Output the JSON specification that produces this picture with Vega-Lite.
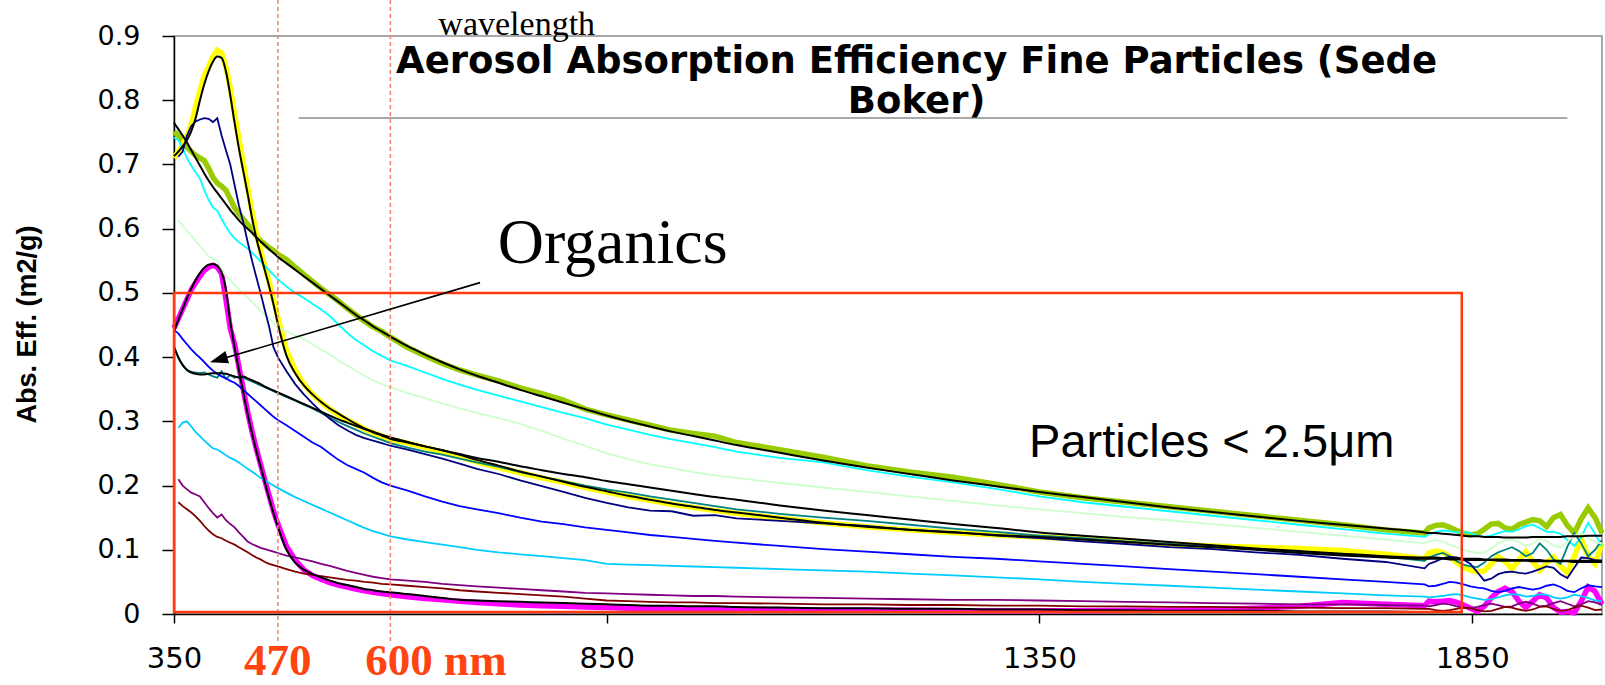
{
  "$schema": "https://vega.github.io/schema/vega-lite/v6.json",
  "width": 1428,
  "height": 578,
  "autosize": {"type": "none"},
  "padding": {"left": 174, "top": 36, "right": 3, "bottom": 71},
  "background": "white",
  "config": {
    "view": {"stroke": "#8c8c8c", "strokeWidth": 1.5},
    "axis": {
      "grid": false, "labelFont": "DejaVu Sans", "labelColor": "#000",
      "tickColor": "#000", "tickWidth": 1.5, "domainColor": "#000", "domainWidth": 1.5
    },
    "axisX": {"labelFontSize": 29, "labelPadding": 21, "labelFlush": false, "labelOverlap": false, "tickSize": 9},
    "axisY": {
      "labelFontSize": 27, "labelPadding": 22, "labelFlush": false, "tickSize": 12,
      "titleFont": "Liberation Sans", "titleFontSize": 27, "titleFontWeight": "bold", "titleColor": "#000",
      "titleAngle": 270, "titleX": -147, "titleY": 288, "titleAlign": "center", "titleBaseline": "middle"
    }
  },
  "datasets": {
    "spectra": [
      {"x":350,"grn":0.751,"yel":0.71,"mag":0.445,"cyn":0.742,"tel":0.416,"blu":0.442,"k1":0.713,"k2":0.765,"k3":0.416,"k4":0.44},
      {"x":355,"grn":0.745,"yel":0.72,"mag":0.46,"lgr":0.613,"cyn":0.738,"nav":0.712,"tel":0.398,"blu":0.437,"lbl":0.29,"pur":0.21,"brn":0.174,"k1":0.72,"k2":0.755,"k3":0.4,"k4":0.458},
      {"x":360,"grn":0.735,"yel":0.73,"mag":0.475,"lgr":0.605,"cyn":0.725,"nav":0.72,"tel":0.387,"blu":0.428,"lbl":0.298,"pur":0.2,"brn":0.168,"k1":0.728,"k2":0.745,"k3":0.388,"k4":0.475},
      {"x":365,"grn":0.727,"yel":0.745,"mag":0.49,"lgr":0.597,"cyn":0.71,"nav":0.745,"tel":0.38,"blu":0.42,"lbl":0.3,"pur":0.194,"brn":0.163,"k1":0.738,"k2":0.734,"k3":0.38,"k4":0.492},
      {"x":370,"grn":0.72,"yel":0.762,"mag":0.505,"lgr":0.589,"cyn":0.698,"nav":0.76,"tel":0.377,"blu":0.412,"lbl":0.292,"pur":0.189,"brn":0.158,"k1":0.752,"k2":0.722,"k3":0.376,"k4":0.507},
      {"x":375,"grn":0.714,"yel":0.79,"mag":0.516,"lgr":0.581,"cyn":0.688,"nav":0.767,"tel":0.376,"blu":0.405,"lbl":0.283,"pur":0.186,"brn":0.152,"k1":0.772,"k2":0.71,"k3":0.374,"k4":0.52},
      {"x":380,"grn":0.71,"yel":0.815,"mag":0.526,"lgr":0.573,"cyn":0.678,"nav":0.77,"tel":0.375,"blu":0.399,"lbl":0.277,"pur":0.183,"brn":0.145,"k1":0.8,"k2":0.698,"k3":0.373,"k4":0.531},
      {"x":385,"grn":0.706,"yel":0.838,"mag":0.535,"lgr":0.565,"cyn":0.66,"nav":0.772,"tel":0.376,"blu":0.392,"lbl":0.27,"pur":0.174,"brn":0.137,"k1":0.825,"k2":0.686,"k3":0.373,"k4":0.539},
      {"x":390,"grn":0.694,"yel":0.852,"mag":0.54,"lgr":0.557,"cyn":0.645,"nav":0.771,"tel":0.373,"blu":0.385,"lbl":0.264,"pur":0.165,"brn":0.13,"k1":0.845,"k2":0.675,"k3":0.374,"k4":0.544},
      {"x":395,"grn":0.68,"yel":0.868,"mag":0.543,"lgr":0.553,"cyn":0.633,"nav":0.766,"tel":0.37,"blu":0.379,"lbl":0.258,"pur":0.157,"brn":0.124,"k1":0.86,"k2":0.665,"k3":0.375,"k4":0.545},
      {"x":400,"grn":0.671,"yel":0.878,"mag":0.54,"lgr":0.551,"cyn":0.628,"nav":0.772,"tel":0.368,"blu":0.374,"lbl":0.256,"pur":0.15,"brn":0.12,"k1":0.868,"k2":0.656,"k3":0.375,"k4":0.542},
      {"x":405,"grn":0.666,"yel":0.874,"mag":0.53,"lgr":0.535,"cyn":0.615,"nav":0.745,"tel":0.378,"blu":0.37,"lbl":0.252,"pur":0.155,"brn":0.118,"k1":0.866,"k2":0.647,"k3":0.375,"k4":0.532},
      {"x":410,"grn":0.66,"yel":0.852,"mag":0.49,"lgr":0.526,"cyn":0.603,"nav":0.722,"tel":0.366,"blu":0.367,"lbl":0.247,"pur":0.146,"brn":0.114,"k1":0.845,"k2":0.638,"k3":0.374,"k4":0.505},
      {"x":415,"grn":0.646,"yel":0.818,"mag":0.445,"lgr":0.52,"cyn":0.593,"nav":0.7,"tel":0.372,"blu":0.363,"lbl":0.243,"pur":0.14,"brn":0.111,"k1":0.808,"k2":0.629,"k3":0.372,"k4":0.455},
      {"x":420,"grn":0.633,"yel":0.778,"mag":0.42,"lgr":0.512,"cyn":0.585,"nav":0.668,"tel":0.368,"blu":0.36,"lbl":0.24,"pur":0.135,"brn":0.108,"k1":0.765,"k2":0.621,"k3":0.37,"k4":0.415},
      {"x":425,"grn":0.623,"yel":0.74,"mag":0.385,"lgr":0.505,"cyn":0.579,"nav":0.636,"tel":0.37,"blu":0.355,"lbl":0.236,"pur":0.127,"brn":0.104,"k1":0.725,"k2":0.613,"k3":0.368,"k4":0.38},
      {"x":430,"grn":0.615,"yel":0.702,"mag":0.35,"lgr":0.5,"cyn":0.574,"nav":0.61,"tel":0.368,"blu":0.349,"lbl":0.231,"pur":0.12,"brn":0.1,"k1":0.69,"k2":0.606,"k3":0.37,"k4":0.345},
      {"x":435,"grn":0.607,"yel":0.664,"mag":0.315,"lgr":0.493,"cyn":0.569,"nav":0.58,"tel":0.365,"blu":0.343,"lbl":0.226,"pur":0.113,"brn":0.096,"k1":0.655,"k2":0.6,"k3":0.367,"k4":0.312},
      {"x":440,"grn":0.598,"yel":0.627,"mag":0.285,"lgr":0.486,"cyn":0.563,"nav":0.551,"tel":0.362,"blu":0.337,"lbl":0.222,"pur":0.109,"brn":0.092,"k1":0.618,"k2":0.594,"k3":0.364,"k4":0.282},
      {"x":445,"grn":0.589,"yel":0.594,"mag":0.258,"lgr":0.479,"cyn":0.556,"nav":0.525,"tel":0.359,"blu":0.331,"lbl":0.217,"pur":0.106,"brn":0.088,"k1":0.586,"k2":0.587,"k3":0.361,"k4":0.255},
      {"x":450,"grn":0.581,"yel":0.566,"mag":0.233,"lgr":0.472,"cyn":0.549,"nav":0.5,"tel":0.356,"blu":0.325,"lbl":0.212,"pur":0.103,"brn":0.085,"k1":0.56,"k2":0.58,"k3":0.358,"k4":0.23},
      {"x":455,"grn":0.576,"yel":0.541,"mag":0.208,"lgr":0.466,"cyn":0.542,"nav":0.473,"tel":0.353,"blu":0.319,"lbl":0.208,"pur":0.101,"brn":0.081,"k1":0.535,"k2":0.574,"k3":0.354,"k4":0.205},
      {"x":460,"grn":0.57,"yel":0.516,"mag":0.184,"lgr":0.46,"cyn":0.535,"nav":0.447,"tel":0.35,"blu":0.313,"lbl":0.204,"pur":0.099,"brn":0.078,"k1":0.51,"k2":0.568,"k3":0.351,"k4":0.18},
      {"x":465,"grn":0.566,"yel":0.49,"mag":0.16,"lgr":0.453,"cyn":0.528,"nav":0.415,"tel":0.347,"blu":0.307,"lbl":0.2,"pur":0.097,"brn":0.076,"k1":0.482,"k2":0.562,"k3":0.348,"k4":0.157},
      {"x":470,"grn":0.56,"yel":0.462,"mag":0.14,"lgr":0.447,"cyn":0.521,"nav":0.4,"tel":0.344,"blu":0.302,"lbl":0.196,"pur":0.095,"brn":0.074,"k1":0.452,"k2":0.556,"k3":0.345,"k4":0.136},
      {"x":480,"grn":0.552,"yel":0.41,"mag":0.105,"lgr":0.44,"cyn":0.51,"nav":0.378,"tel":0.338,"blu":0.294,"lbl":0.189,"pur":0.091,"brn":0.07,"k1":0.402,"k2":0.546,"k3":0.339,"k4":0.1},
      {"x":490,"grn":0.54,"yel":0.38,"mag":0.084,"lgr":0.434,"cyn":0.5,"nav":0.358,"tel":0.332,"blu":0.285,"lbl":0.182,"pur":0.088,"brn":0.066,"k1":0.375,"k2":0.536,"k3":0.333,"k4":0.08},
      {"x":500,"grn":0.529,"yel":0.358,"mag":0.069,"lgr":0.428,"cyn":0.492,"nav":0.342,"tel":0.326,"blu":0.276,"lbl":0.176,"pur":0.085,"brn":0.063,"k1":0.356,"k2":0.526,"k3":0.327,"k4":0.069},
      {"x":510,"grn":0.518,"yel":0.342,"mag":0.06,"lgr":0.42,"cyn":0.483,"nav":0.328,"tel":0.32,"blu":0.267,"lbl":0.17,"pur":0.082,"brn":0.061,"k1":0.342,"k2":0.516,"k3":0.321,"k4":0.062},
      {"x":520,"grn":0.507,"yel":0.33,"mag":0.054,"lgr":0.412,"cyn":0.474,"nav":0.315,"tel":0.313,"blu":0.26,"lbl":0.164,"pur":0.078,"brn":0.059,"k1":0.33,"k2":0.506,"k3":0.315,"k4":0.057},
      {"x":530,"grn":0.497,"yel":0.319,"mag":0.049,"lgr":0.404,"cyn":0.464,"nav":0.304,"tel":0.306,"blu":0.25,"lbl":0.158,"pur":0.075,"brn":0.057,"k1":0.32,"k2":0.496,"k3":0.309,"k4":0.052},
      {"x":540,"grn":0.487,"yel":0.31,"mag":0.045,"lgr":0.395,"cyn":0.451,"nav":0.294,"tel":0.299,"blu":0.24,"lbl":0.152,"pur":0.071,"brn":0.055,"k1":0.312,"k2":0.486,"k3":0.303,"k4":0.048},
      {"x":550,"grn":0.476,"yel":0.302,"mag":0.042,"lgr":0.387,"cyn":0.438,"nav":0.286,"tel":0.293,"blu":0.232,"lbl":0.146,"pur":0.067,"brn":0.053,"k1":0.304,"k2":0.476,"k3":0.298,"k4":0.045},
      {"x":560,"grn":0.466,"yel":0.295,"mag":0.039,"lgr":0.379,"cyn":0.427,"nav":0.279,"tel":0.287,"blu":0.226,"lbl":0.14,"pur":0.064,"brn":0.052,"k1":0.296,"k2":0.466,"k3":0.293,"k4":0.042},
      {"x":570,"grn":0.456,"yel":0.288,"mag":0.036,"lgr":0.371,"cyn":0.418,"nav":0.274,"tel":0.281,"blu":0.22,"lbl":0.134,"pur":0.061,"brn":0.05,"k1":0.289,"k2":0.457,"k3":0.288,"k4":0.039},
      {"x":580,"grn":0.447,"yel":0.282,"mag":0.034,"lgr":0.364,"cyn":0.409,"nav":0.27,"tel":0.276,"blu":0.212,"lbl":0.129,"pur":0.058,"brn":0.049,"k1":0.283,"k2":0.448,"k3":0.284,"k4":0.037},
      {"x":590,"grn":0.44,"yel":0.277,"mag":0.032,"lgr":0.358,"cyn":0.402,"nav":0.266,"tel":0.271,"blu":0.205,"lbl":0.125,"pur":0.056,"brn":0.047,"k1":0.278,"k2":0.44,"k3":0.279,"k4":0.035},
      {"x":600,"grn":0.431,"yel":0.272,"mag":0.03,"lgr":0.353,"cyn":0.395,"nav":0.262,"tel":0.266,"blu":0.2,"lbl":0.121,"pur":0.054,"brn":0.046,"k1":0.273,"k2":0.432,"k3":0.275,"k4":0.034},
      {"x":620,"grn":0.415,"yel":0.266,"mag":0.027,"lgr":0.344,"cyn":0.386,"nav":0.256,"tel":0.259,"blu":0.192,"lbl":0.116,"pur":0.052,"brn":0.044,"k1":0.267,"k2":0.417,"k3":0.268,"k4":0.031},
      {"x":640,"grn":0.402,"yel":0.259,"mag":0.024,"lgr":0.336,"cyn":0.376,"nav":0.249,"tel":0.253,"blu":0.183,"lbl":0.112,"pur":0.05,"brn":0.042,"k1":0.261,"k2":0.404,"k3":0.261,"k4":0.028},
      {"x":660,"grn":0.39,"yel":0.252,"mag":0.022,"lgr":0.328,"cyn":0.366,"nav":0.242,"tel":0.248,"blu":0.175,"lbl":0.108,"pur":0.047,"brn":0.04,"k1":0.255,"k2":0.392,"k3":0.255,"k4":0.025},
      {"x":680,"grn":0.38,"yel":0.245,"mag":0.02,"lgr":0.32,"cyn":0.357,"nav":0.234,"tel":0.242,"blu":0.168,"lbl":0.104,"pur":0.045,"brn":0.037,"k1":0.248,"k2":0.381,"k3":0.249,"k4":0.022},
      {"x":700,"grn":0.372,"yel":0.237,"mag":0.018,"lgr":0.313,"cyn":0.349,"nav":0.226,"tel":0.236,"blu":0.163,"lbl":0.1,"pur":0.043,"brn":0.035,"k1":0.24,"k2":0.371,"k3":0.243,"k4":0.021},
      {"x":725,"grn":0.363,"yel":0.228,"mag":0.016,"lgr":0.305,"cyn":0.34,"nav":0.218,"tel":0.229,"blu":0.157,"lbl":0.096,"pur":0.041,"brn":0.033,"k1":0.231,"k2":0.36,"k3":0.237,"k4":0.02},
      {"x":750,"grn":0.352,"yel":0.22,"mag":0.014,"lgr":0.296,"cyn":0.331,"nav":0.208,"tel":0.221,"blu":0.15,"lbl":0.093,"pur":0.039,"brn":0.031,"k1":0.222,"k2":0.349,"k3":0.23,"k4":0.019},
      {"x":775,"grn":0.343,"yel":0.212,"mag":0.013,"lgr":0.285,"cyn":0.322,"nav":0.199,"tel":0.214,"blu":0.144,"lbl":0.09,"pur":0.037,"brn":0.029,"k1":0.214,"k2":0.339,"k3":0.224,"k4":0.018},
      {"x":800,"grn":0.333,"yel":0.205,"mag":0.012,"lgr":0.273,"cyn":0.313,"nav":0.19,"tel":0.207,"blu":0.14,"lbl":0.087,"pur":0.035,"brn":0.027,"k1":0.206,"k2":0.329,"k3":0.218,"k4":0.017},
      {"x":825,"grn":0.319,"yel":0.197,"mag":0.011,"lgr":0.262,"cyn":0.305,"nav":0.181,"tel":0.2,"blu":0.135,"lbl":0.084,"pur":0.033,"brn":0.024,"k1":0.198,"k2":0.319,"k3":0.213,"k4":0.016},
      {"x":850,"grn":0.31,"yel":0.19,"mag":0.01,"lgr":0.25,"cyn":0.295,"nav":0.173,"tel":0.194,"blu":0.131,"lbl":0.078,"pur":0.032,"brn":0.021,"k1":0.191,"k2":0.309,"k3":0.207,"k4":0.015},
      {"x":875,"grn":0.302,"yel":0.183,"mag":0.009,"lgr":0.241,"cyn":0.287,"nav":0.166,"tel":0.189,"blu":0.127,"lbl":0.077,"pur":0.031,"brn":0.02,"k1":0.184,"k2":0.3,"k3":0.202,"k4":0.014},
      {"x":900,"grn":0.294,"yel":0.177,"mag":0.009,"lgr":0.233,"cyn":0.279,"nav":0.161,"tel":0.183,"blu":0.123,"lbl":0.076,"pur":0.03,"brn":0.019,"k1":0.178,"k2":0.292,"k3":0.197,"k4":0.013},
      {"x":925,"grn":0.286,"yel":0.171,"mag":0.008,"lgr":0.227,"cyn":0.272,"nav":0.16,"tel":0.178,"blu":0.12,"lbl":0.075,"pur":0.029,"brn":0.018,"k1":0.172,"k2":0.284,"k3":0.192,"k4":0.013},
      {"x":950,"grn":0.281,"yel":0.166,"mag":0.008,"lgr":0.221,"cyn":0.266,"nav":0.153,"tel":0.173,"blu":0.117,"lbl":0.074,"pur":0.028,"brn":0.018,"k1":0.167,"k2":0.277,"k3":0.187,"k4":0.012},
      {"x":975,"grn":0.277,"yel":0.161,"mag":0.008,"lgr":0.216,"cyn":0.26,"nav":0.154,"tel":0.168,"blu":0.114,"lbl":0.073,"pur":0.028,"brn":0.017,"k1":0.162,"k2":0.27,"k3":0.182,"k4":0.012},
      {"x":1000,"grn":0.267,"yel":0.157,"mag":0.007,"lgr":0.212,"cyn":0.253,"nav":0.149,"tel":0.163,"blu":0.111,"lbl":0.072,"pur":0.027,"brn":0.017,"k1":0.158,"k2":0.263,"k3":0.178,"k4":0.011},
      {"x":1050,"grn":0.256,"yel":0.149,"mag":0.007,"lgr":0.204,"cyn":0.243,"nav":0.145,"tel":0.156,"blu":0.106,"lbl":0.07,"pur":0.026,"brn":0.016,"k1":0.15,"k2":0.251,"k3":0.169,"k4":0.01},
      {"x":1100,"grn":0.244,"yel":0.142,"mag":0.006,"lgr":0.197,"cyn":0.236,"nav":0.141,"tel":0.15,"blu":0.101,"lbl":0.068,"pur":0.025,"brn":0.015,"k1":0.142,"k2":0.239,"k3":0.161,"k4":0.009},
      {"x":1150,"grn":0.231,"yel":0.136,"mag":0.006,"lgr":0.19,"cyn":0.224,"nav":0.137,"tel":0.145,"blu":0.097,"lbl":0.066,"pur":0.024,"brn":0.015,"k1":0.136,"k2":0.228,"k3":0.154,"k4":0.009},
      {"x":1200,"grn":0.221,"yel":0.131,"mag":0.006,"lgr":0.183,"cyn":0.214,"nav":0.131,"tel":0.139,"blu":0.093,"lbl":0.063,"pur":0.023,"brn":0.014,"k1":0.131,"k2":0.218,"k3":0.147,"k4":0.008},
      {"x":1250,"grn":0.213,"yel":0.127,"mag":0.005,"lgr":0.176,"cyn":0.205,"nav":0.128,"tel":0.133,"blu":0.089,"lbl":0.06,"pur":0.022,"brn":0.014,"k1":0.127,"k2":0.208,"k3":0.14,"k4":0.008},
      {"x":1300,"grn":0.202,"yel":0.123,"mag":0.005,"lgr":0.169,"cyn":0.195,"nav":0.122,"tel":0.128,"blu":0.086,"lbl":0.057,"pur":0.022,"brn":0.013,"k1":0.123,"k2":0.199,"k3":0.134,"k4":0.007},
      {"x":1350,"grn":0.19,"yel":0.12,"mag":0.005,"lgr":0.163,"cyn":0.183,"nav":0.118,"tel":0.122,"blu":0.082,"lbl":0.054,"pur":0.021,"brn":0.013,"k1":0.12,"k2":0.19,"k3":0.127,"k4":0.007},
      {"x":1400,"grn":0.181,"yel":0.117,"mag":0.005,"lgr":0.157,"cyn":0.174,"nav":0.113,"tel":0.118,"blu":0.078,"lbl":0.05,"pur":0.02,"brn":0.012,"k1":0.116,"k2":0.182,"k3":0.122,"k4":0.006},
      {"x":1450,"grn":0.174,"yel":0.113,"mag":0.006,"lgr":0.151,"cyn":0.167,"nav":0.109,"tel":0.113,"blu":0.074,"lbl":0.047,"pur":0.019,"brn":0.012,"k1":0.112,"k2":0.174,"k3":0.117,"k4":0.006},
      {"x":1500,"grn":0.167,"yel":0.109,"mag":0.006,"lgr":0.146,"cyn":0.16,"nav":0.104,"tel":0.109,"blu":0.07,"lbl":0.044,"pur":0.018,"brn":0.011,"k1":0.108,"k2":0.166,"k3":0.112,"k4":0.005},
      {"x":1550,"grn":0.16,"yel":0.106,"mag":0.007,"lgr":0.14,"cyn":0.153,"nav":0.101,"tel":0.105,"blu":0.066,"lbl":0.041,"pur":0.017,"brn":0.011,"k1":0.104,"k2":0.159,"k3":0.107,"k4":0.005},
      {"x":1600,"grn":0.153,"yel":0.104,"mag":0.009,"lgr":0.134,"cyn":0.146,"nav":0.096,"tel":0.101,"blu":0.062,"lbl":0.038,"pur":0.016,"brn":0.01,"k1":0.1,"k2":0.152,"k3":0.102,"k4":0.005},
      {"x":1650,"grn":0.146,"yel":0.102,"mag":0.012,"lgr":0.128,"cyn":0.139,"nav":0.092,"tel":0.097,"blu":0.058,"lbl":0.035,"pur":0.015,"brn":0.01,"k1":0.095,"k2":0.145,"k3":0.098,"k4":0.004},
      {"x":1700,"grn":0.139,"yel":0.099,"mag":0.018,"lgr":0.122,"cyn":0.132,"nav":0.086,"tel":0.093,"blu":0.054,"lbl":0.032,"pur":0.015,"brn":0.009,"k1":0.091,"k2":0.139,"k3":0.094,"k4":0.004},
      {"x":1750,"grn":0.131,"yel":0.093,"mag":0.015,"lgr":0.116,"cyn":0.125,"nav":0.081,"tel":0.089,"blu":0.05,"lbl":0.029,"pur":0.014,"brn":0.009,"k1":0.088,"k2":0.133,"k3":0.09,"k4":0.004},
      {"x":1795,"grn":0.126,"yel":0.086,"mag":0.013,"lgr":0.11,"cyn":0.12,"nav":0.071,"tel":0.083,"blu":0.046,"lbl":0.027,"pur":0.013,"brn":0.008,"k1":0.086,"k2":0.127,"k3":0.088,"k4":0.003},
      {"x":1800,"grn":0.134,"yel":0.095,"mag":0.02,"lgr":0.113,"cyn":0.124,"nav":0.078,"tel":0.088,"blu":0.043,"lbl":0.026,"pur":0.012,"brn":0.008,"k1":0.086,"k2":0.126,"k3":0.088,"k4":0.003},
      {"x":1808,"grn":0.138,"yel":0.098,"mag":0.019,"lgr":0.115,"cyn":0.128,"nav":0.082,"tel":0.092,"blu":0.044,"lbl":0.027,"pur":0.014,"brn":0.006,"k1":0.086,"k2":0.126,"k3":0.088,"k4":0.003},
      {"x":1816,"grn":0.139,"yel":0.096,"mag":0.02,"lgr":0.113,"cyn":0.13,"nav":0.087,"tel":0.095,"blu":0.047,"lbl":0.028,"pur":0.016,"brn":0.005,"k1":0.086,"k2":0.125,"k3":0.087,"k4":0.003},
      {"x":1824,"grn":0.135,"yel":0.09,"mag":0.021,"lgr":0.108,"cyn":0.129,"nav":0.089,"tel":0.09,"blu":0.05,"lbl":0.03,"pur":0.015,"brn":0.006,"k1":0.085,"k2":0.124,"k3":0.087,"k4":0.003},
      {"x":1832,"grn":0.13,"yel":0.08,"mag":0.018,"lgr":0.104,"cyn":0.127,"nav":0.088,"tel":0.082,"blu":0.049,"lbl":0.031,"pur":0.012,"brn":0.008,"k1":0.085,"k2":0.123,"k3":0.087,"k4":0.003},
      {"x":1840,"grn":0.126,"yel":0.073,"mag":0.014,"lgr":0.1,"cyn":0.128,"nav":0.085,"tel":0.077,"blu":0.046,"lbl":0.029,"pur":0.01,"brn":0.01,"k1":0.085,"k2":0.122,"k3":0.086},
      {"x":1848,"grn":0.123,"yel":0.068,"mag":0.009,"lgr":0.097,"cyn":0.126,"nav":0.078,"tel":0.074,"blu":0.043,"lbl":0.026,"pur":0.009,"brn":0.009,"k1":0.084,"k2":0.121,"k3":0.086},
      {"x":1856,"grn":0.125,"yel":0.066,"mag":0.004,"lgr":0.095,"cyn":0.122,"nav":0.065,"tel":0.073,"blu":0.041,"lbl":0.024,"pur":0.011,"brn":0.006,"k1":0.084,"k2":0.121,"k3":0.086},
      {"x":1864,"grn":0.132,"yel":0.067,"mag":0.012,"lgr":0.096,"cyn":0.12,"nav":0.052,"tel":0.08,"blu":0.04,"lbl":0.022,"pur":0.014,"brn":0.004,"k1":0.084,"k2":0.12,"k3":0.085},
      {"x":1872,"grn":0.14,"yel":0.078,"mag":0.025,"lgr":0.102,"cyn":0.122,"nav":0.055,"tel":0.09,"blu":0.036,"lbl":0.023,"pur":0.016,"brn":0.005,"k1":0.084,"k2":0.12,"k3":0.085},
      {"x":1880,"grn":0.141,"yel":0.089,"mag":0.035,"lgr":0.11,"cyn":0.126,"nav":0.062,"tel":0.096,"blu":0.034,"lbl":0.026,"pur":0.014,"brn":0.008,"k1":0.083,"k2":0.12,"k3":0.085},
      {"x":1888,"grn":0.134,"yel":0.082,"mag":0.04,"lgr":0.115,"cyn":0.129,"nav":0.065,"tel":0.1,"blu":0.036,"lbl":0.029,"pur":0.011,"brn":0.011,"k1":0.083,"k2":0.119,"k3":0.085},
      {"x":1896,"grn":0.132,"yel":0.07,"mag":0.035,"lgr":0.116,"cyn":0.128,"nav":0.066,"tel":0.104,"blu":0.04,"lbl":0.031,"pur":0.012,"brn":0.01,"k1":0.083,"k2":0.119,"k3":0.084},
      {"x":1904,"grn":0.139,"yel":0.084,"mag":0.02,"lgr":0.112,"cyn":0.132,"nav":0.064,"tel":0.098,"blu":0.042,"lbl":0.03,"pur":0.016,"brn":0.007,"k1":0.083,"k2":0.119,"k3":0.084},
      {"x":1912,"grn":0.143,"yel":0.097,"mag":0.01,"lgr":0.106,"cyn":0.137,"nav":0.063,"tel":0.09,"blu":0.04,"lbl":0.027,"pur":0.019,"brn":0.005,"k1":0.083,"k2":0.119,"k3":0.084},
      {"x":1920,"grn":0.147,"yel":0.082,"mag":0.02,"lgr":0.11,"cyn":0.139,"nav":0.066,"tel":0.095,"blu":0.038,"lbl":0.028,"pur":0.016,"brn":0.007,"k1":0.082,"k2":0.12,"k3":0.084},
      {"x":1928,"grn":0.145,"yel":0.068,"mag":0.03,"lgr":0.118,"cyn":0.134,"nav":0.07,"tel":0.11,"blu":0.04,"lbl":0.031,"pur":0.012,"brn":0.011,"k1":0.082,"k2":0.12,"k3":0.084},
      {"x":1936,"grn":0.136,"yel":0.08,"mag":0.025,"lgr":0.114,"cyn":0.128,"nav":0.074,"tel":0.1,"blu":0.044,"lbl":0.03,"pur":0.013,"brn":0.012,"k1":0.082,"k2":0.12,"k3":0.083},
      {"x":1944,"grn":0.15,"yel":0.089,"mag":0.01,"lgr":0.106,"cyn":0.128,"nav":0.072,"tel":0.085,"blu":0.046,"lbl":0.026,"pur":0.017,"brn":0.008,"k1":0.082,"k2":0.12,"k3":0.083},
      {"x":1952,"grn":0.155,"yel":0.075,"mag":0.003,"lgr":0.104,"cyn":0.125,"nav":0.062,"tel":0.078,"blu":0.042,"lbl":0.024,"pur":0.02,"brn":0.005,"k1":0.082,"k2":0.12,"k3":0.083},
      {"x":1960,"grn":0.138,"yel":0.064,"mag":0.004,"lgr":0.112,"cyn":0.115,"nav":0.056,"tel":0.105,"blu":0.036,"lbl":0.026,"pur":0.016,"brn":0.006,"k1":0.082,"k2":0.121,"k3":0.083},
      {"x":1968,"grn":0.126,"yel":0.09,"mag":0.002,"lgr":0.122,"cyn":0.106,"nav":0.072,"tel":0.126,"blu":0.034,"lbl":0.03,"pur":0.012,"brn":0.01,"k1":0.081,"k2":0.121,"k3":0.083},
      {"x":1976,"grn":0.148,"yel":0.117,"mag":0.02,"lgr":0.126,"cyn":0.12,"nav":0.088,"tel":0.11,"blu":0.04,"lbl":0.028,"pur":0.015,"brn":0.013,"k1":0.081,"k2":0.121,"k3":0.083},
      {"x":1984,"grn":0.165,"yel":0.09,"mag":0.042,"lgr":0.118,"cyn":0.142,"nav":0.087,"tel":0.09,"blu":0.045,"lbl":0.025,"pur":0.02,"brn":0.01,"k1":0.081,"k2":0.122,"k3":0.083},
      {"x":1992,"grn":0.15,"yel":0.078,"mag":0.035,"lgr":0.112,"cyn":0.125,"nav":0.084,"tel":0.1,"blu":0.043,"lbl":0.021,"pur":0.018,"brn":0.006,"k1":0.081,"k2":0.122,"k3":0.083},
      {"x":2000,"grn":0.126,"yel":0.11,"mag":0.015,"lgr":0.11,"cyn":0.105,"nav":0.083,"tel":0.115,"blu":0.042,"lbl":0.02,"pur":0.014,"brn":0.007,"k1":0.081,"k2":0.122,"k3":0.083}
    ]
  },
  "layer": [
    {
      "data": {"name": "spectra"},
      "transform": [
        {"fold": ["grn", "yel", "mag"], "as": ["s", "v"]},
        {"filter": "isValid(datum.v)"}
      ],
      "mark": {"type": "line", "strokeWidth": 5.5},
      "encoding": {
        "x": {
          "field": "x", "type": "quantitative", "title": null,
          "scale": {"domain": [350, 2000], "nice": false, "zero": false},
          "axis": {"values": [350, 850, 1350, 1850], "format": "d"}
        },
        "y": {
          "field": "v", "type": "quantitative", "title": "Abs. Eff. (m2/g)",
          "scale": {"domain": [0, 0.9], "nice": false},
          "axis": {"values": [0, 0.1, 0.2, 0.3, 0.4, 0.5, 0.6, 0.7, 0.8, 0.9], "format": ".1~f"}
        },
        "color": {
          "field": "s", "type": "nominal", "legend": null,
          "scale": {
            "domain": ["grn", "yel", "mag", "lgr", "cyn", "nav", "tel", "blu", "lbl", "pur", "brn"],
            "range": ["#99cc00", "#ffff00", "#ff00ff", "#ccffcc", "#00ffff", "#000080", "#008080", "#0000ff", "#00ccff", "#800080", "#800000"]
          }
        }
      }
    },
    {
      "data": {"name": "spectra"},
      "transform": [
        {"fold": ["lgr", "cyn", "nav", "tel", "blu", "lbl", "pur", "brn"], "as": ["s", "v"]},
        {"filter": "isValid(datum.v)"}
      ],
      "mark": {"type": "line", "strokeWidth": 1.8},
      "encoding": {
        "x": {"field": "x", "type": "quantitative", "title": null},
        "y": {"field": "v", "type": "quantitative", "title": "Abs. Eff. (m2/g)"},
        "color": {
          "field": "s", "type": "nominal", "legend": null,
          "scale": {
            "domain": ["grn", "yel", "mag", "lgr", "cyn", "nav", "tel", "blu", "lbl", "pur", "brn"],
            "range": ["#99cc00", "#ffff00", "#ff00ff", "#ccffcc", "#00ffff", "#000080", "#008080", "#0000ff", "#00ccff", "#800080", "#800000"]
          }
        }
      }
    },
    {
      "data": {"name": "spectra"},
      "transform": [
        {"fold": ["k2", "k1", "k3", "k4"], "as": ["s", "v"]},
        {"filter": "isValid(datum.v)"}
      ],
      "mark": {"type": "line", "color": "#000", "strokeWidth": 2, "interpolate": "monotone"},
      "encoding": {
        "x": {"field": "x", "type": "quantitative", "title": null},
        "y": {"field": "v", "type": "quantitative", "title": "Abs. Eff. (m2/g)"},
        "detail": {"field": "s", "type": "nominal"}
      }
    },
    {
      "data": {"values": [{"x": 470}, {"x": 600}]},
      "mark": {"type": "rule", "color": "#f3826e", "strokeWidth": 1.5, "strokeDash": [4, 3]},
      "encoding": {
        "x": {"field": "x", "type": "quantitative", "title": null},
        "y": {"datum": 0.956, "type": "quantitative"},
        "y2": {"datum": -0.047}
      }
    },
    {
      "data": {"values": [{}]},
      "mark": {"type": "rect", "fillOpacity": 0, "stroke": "#ff3a10", "strokeWidth": 2.5},
      "encoding": {
        "x": {"datum": 350, "type": "quantitative"},
        "x2": {"datum": 1838},
        "y": {"datum": 0.003, "type": "quantitative"},
        "y2": {"datum": 0.5}
      }
    },
    {
      "data": {"values": [{}]},
      "mark": {"type": "rule", "color": "#8c8c8c", "strokeWidth": 1.5},
      "encoding": {
        "x": {"datum": 494, "type": "quantitative"},
        "x2": {"datum": 1960},
        "y": {"datum": 0.7723, "type": "quantitative"}
      }
    },
    {
      "data": {"values": [{}]},
      "mark": {"type": "rule", "color": "#000", "strokeWidth": 1.6},
      "encoding": {
        "x": {"datum": 703.6, "type": "quantitative"},
        "y": {"datum": 0.516, "type": "quantitative"},
        "x2": {"datum": 395},
        "y2": {"datum": 0.393}
      }
    },
    {
      "data": {"values": [{}]},
      "mark": {"type": "point", "shape": "M0,0L-2,-0.7L-2,0.7Z", "angle": 163.6, "size": 324, "filled": true, "color": "#000", "opacity": 1, "strokeWidth": 0},
      "encoding": {
        "x": {"datum": 391.6, "type": "quantitative"},
        "y": {"datum": 0.392, "type": "quantitative"}
      }
    },
    {
      "data": {"values": [{}]},
      "mark": {"type": "text", "text": "wavelength", "font": "Liberation Serif", "fontSize": 34, "align": "center", "baseline": "alphabetic", "color": "#000"},
      "encoding": {
        "x": {"datum": 746, "type": "quantitative"},
        "y": {"datum": 0.901, "type": "quantitative"}
      }
    },
    {
      "data": {"values": [{}]},
      "mark": {"type": "text", "text": ["Aerosol Absorption Efficiency Fine Particles (Sede", "Boker)"], "font": "DejaVu Sans", "fontWeight": "bold", "fontSize": 37, "lineHeight": 40, "align": "center", "baseline": "alphabetic", "color": "#000"},
      "encoding": {
        "x": {"datum": 1208, "type": "quantitative"},
        "y": {"datum": 0.842, "type": "quantitative"}
      }
    },
    {
      "data": {"values": [{}]},
      "mark": {"type": "text", "text": "Organics", "font": "Liberation Serif", "fontSize": 64, "align": "left", "baseline": "alphabetic", "color": "#000"},
      "encoding": {
        "x": {"datum": 724, "type": "quantitative"},
        "y": {"datum": 0.546, "type": "quantitative"}
      }
    },
    {
      "data": {"values": [{}]},
      "mark": {"type": "text", "text": "Particles < 2.5μm", "font": "Liberation Sans", "fontSize": 47, "align": "left", "baseline": "alphabetic", "color": "#000"},
      "encoding": {
        "x": {"datum": 1338, "type": "quantitative"},
        "y": {"datum": 0.2445, "type": "quantitative"}
      }
    },
    {
      "data": {"values": [{}]},
      "mark": {"type": "text", "text": "470", "font": "Liberation Serif", "fontWeight": "bold", "fontSize": 45, "align": "center", "baseline": "alphabetic", "color": "#ff4411"},
      "encoding": {
        "x": {"datum": 470, "type": "quantitative"},
        "y": {"datum": -0.095, "type": "quantitative"}
      }
    },
    {
      "data": {"values": [{}]},
      "mark": {"type": "text", "text": "600 nm", "font": "Liberation Serif", "fontWeight": "bold", "fontSize": 45, "align": "left", "baseline": "alphabetic", "dx": -25, "color": "#ff4411"},
      "encoding": {
        "x": {"datum": 600, "type": "quantitative"},
        "y": {"datum": -0.095, "type": "quantitative"}
      }
    }
  ]
}
